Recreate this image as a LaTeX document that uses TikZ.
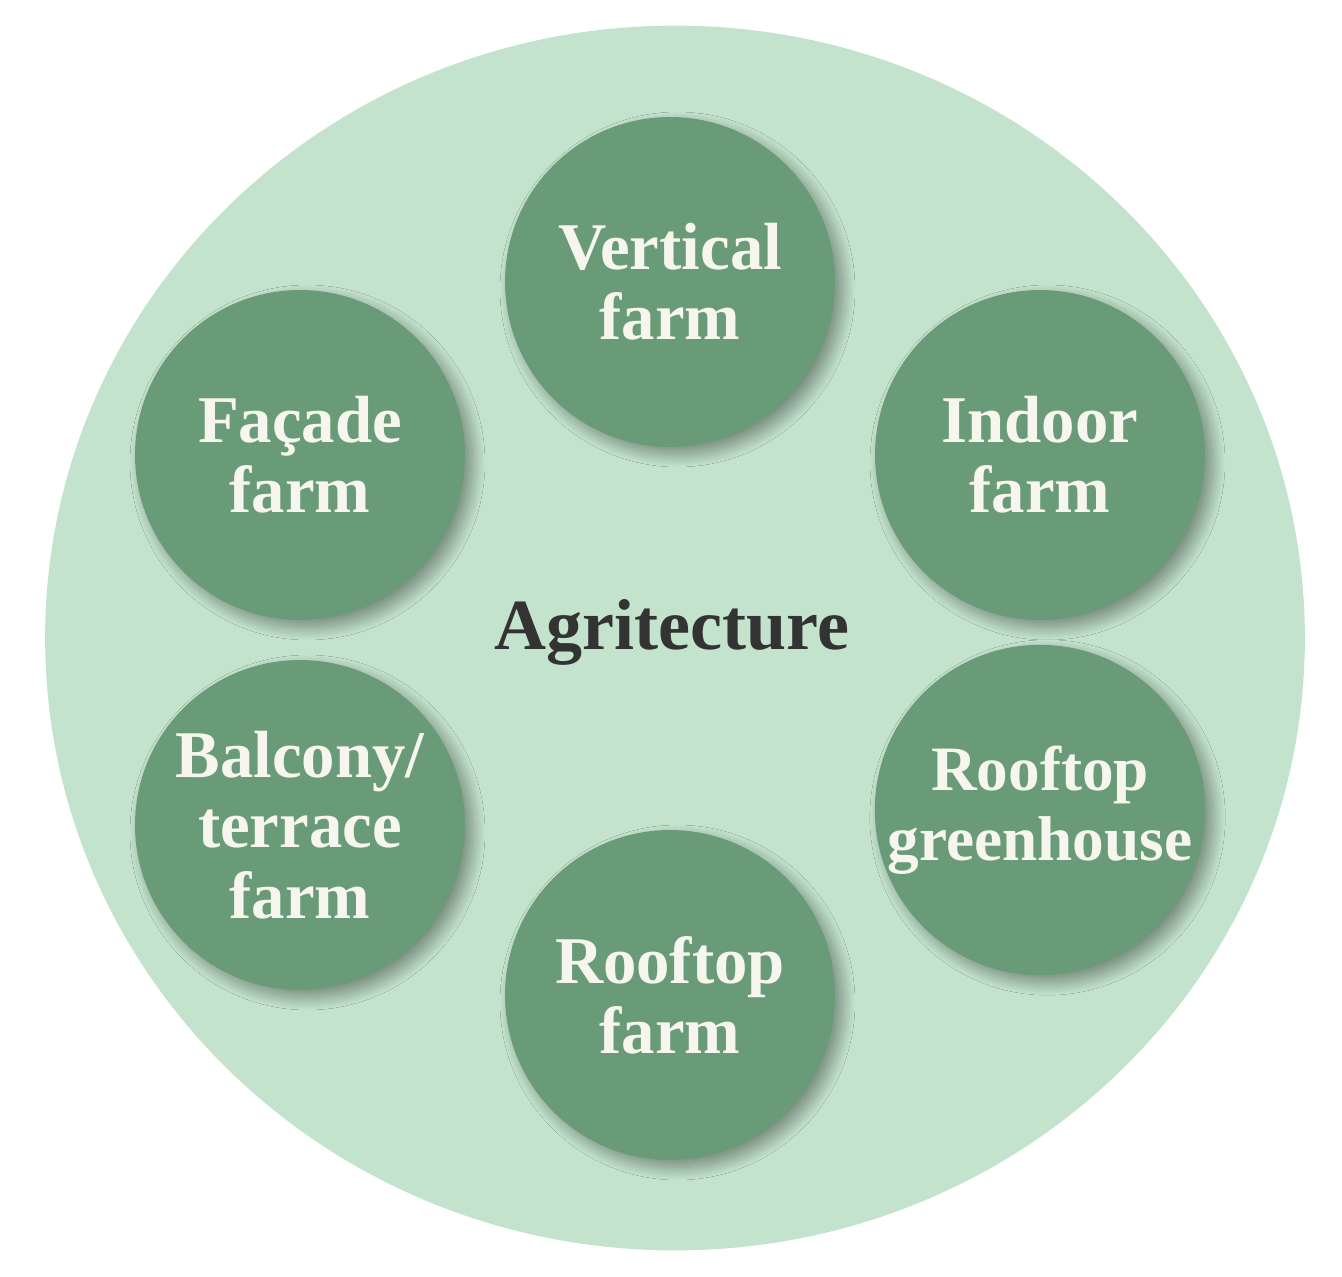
\documentclass[tikz,border=0pt]{standalone}
\usepackage{fontspec}
\setmainfont{Liberation Serif}
\usetikzlibrary{shadows.blur,shapes.geometric}
\definecolor{bigc}{HTML}{C3E3CD}
\definecolor{smallc}{HTML}{6A9B78}
\definecolor{txt}{HTML}{F7F6EE}
\tikzset{
 px/.style={x=0.02cm,y=-0.02cm},
 farm/.style={circle,fill=smallc,minimum size=6.6cm,inner sep=0pt,align=center,text=txt,font=\bfseries\fontsize{38}{40}\selectfont,blur shadow={shadow xshift=0.15cm,shadow yshift=-0.15cm,shadow blur radius=0.25cm,shadow blur steps=20,shadow opacity=40}}
}
\begin{document}
\begin{tikzpicture}[px]
\useasboundingbox (0,0) rectangle (1342,1277);
\node[ellipse,fill=bigc,minimum width=25.2cm,minimum height=24.5cm,inner sep=0pt] (big) at (675,638) {};
\node[font=\bfseries\fontsize{41}{44}\selectfont,text=black!80] (ag) at (672,632) {Agritecture};
\node[farm] (v) at (670,282) {Vertical\\farm};
\node[farm] (i) at (1040,455) {Indoor\\farm};
\node[farm,font=\bfseries\fontsize{36}{40}\selectfont] (rg) at (1040,810) {Rooftop\\greenhouse};
\node[farm] (rf) at (670,995) {Rooftop\\farm};
\node[farm] (b) at (300,825) {Balcony/\\terrace\\farm};
\node[farm] (f) at (300,455) {Façade\\farm};
\end{tikzpicture}
\end{document}
